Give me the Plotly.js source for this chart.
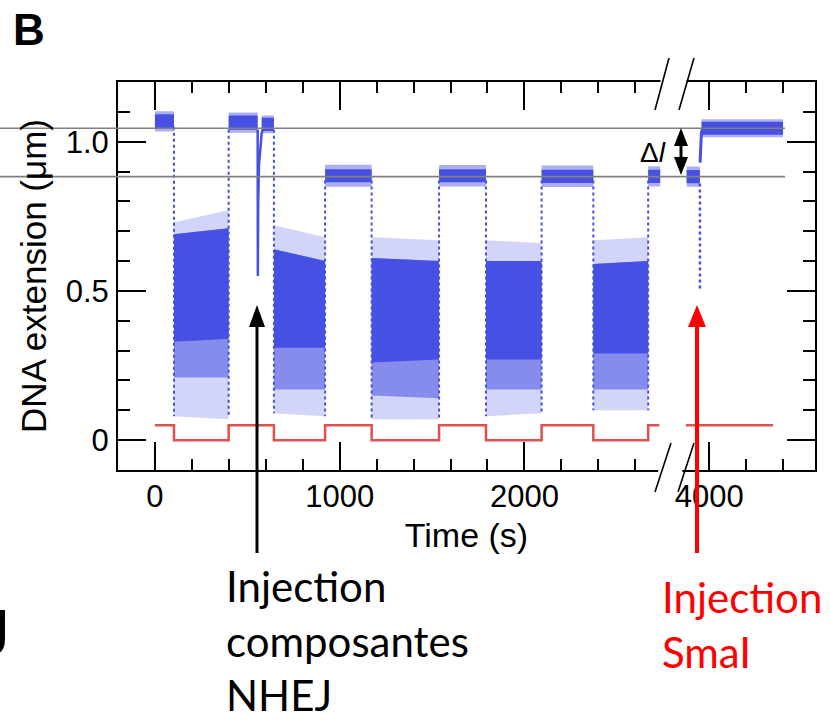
<!DOCTYPE html>
<html><head><meta charset="utf-8">
<script src="https://cdn.plot.ly/plotly-3.0.1.min.js"></script>
<style>html,body{margin:0;padding:0;background:#fff}#chart{width:830px;height:721px}</style>
</head><body><div id="chart"></div>
<script>
// ================= DATA =================
// Time axis is broken: times after the break are drawn shifted left by BREAK_CUT
const BREAK_AT = 3000;          // s, any time above this lies after the break
const BREAK_CUT = 1000;         // s removed by the break

const xTickTimes  = [0, 1000, 2000, 4000];
const xTickText   = ['0', '1000', '2000', '4000'];
const xMinorTimes = [200, 400, 600, 800, 1200, 1400, 1600, 1800, 2200, 2400, 2600, 4200, 4400];
const yTickVals   = [0, 0.5, 1.0];
const yTickText   = ['0', '0.5', '1.0'];
const yMinorVals  = [0.1, 0.2, 0.3, 0.4, 0.6, 0.7, 0.8, 0.9, 1.1];

// Fluctuating (low force) phases: start / end time (s) and envelope levels (µm) at [start, end]
const cloudStart    = [103, 644, 1173, 1792, 2373];
const cloudEnd      = [399, 921, 1538, 2093, 2670];
const cloudOuterTop = [[0.73, 0.77], [0.72, 0.68], [0.68, 0.67], [0.67, 0.66], [0.67, 0.68]];
const cloudCoreTop  = [[0.69, 0.71], [0.64, 0.60], [0.61, 0.60], [0.60, 0.60], [0.59, 0.60]];
const cloudCoreBot  = [[0.33, 0.34], [0.31, 0.31], [0.26, 0.27], [0.27, 0.27], [0.29, 0.29]];
const cloudSpeckBot = [[0.21, 0.21], [0.17, 0.17], [0.15, 0.14], [0.17, 0.17], [0.17, 0.17]];
const cloudOuterBot = [[0.08, 0.07], [0.09, 0.08], [0.07, 0.07], [0.08, 0.09], [0.10, 0.10]];

// Plateaus (high force): start / end time (s), mean extension and noise half-widths (µm)
const platStart = [0, 399, 578, 921, 1538, 2093, 2670, 3878, 3959];
const platEnd   = [103, 556, 644, 1173, 1792, 2373, 2735, 3950, 4400];
const platLevel = [1.068, 1.064, 1.058, 0.886, 0.886, 0.884, 0.884, 0.883, 1.045];
const platCore  = [0.024, 0.024, 0.022, 0.022, 0.022, 0.022, 0.022, 0.022, 0.022];
const platOuter = [0.034, 0.034, 0.030, 0.037, 0.036, 0.036, 0.034, 0.034, 0.030];

// Transitions between phases (dotted vertical traces)
const transTime = [103, 399, 644, 921, 1173, 1538, 1792, 2093, 2373, 2670];
const transHigh = [1.05, 1.04, 1.04, 0.87, 0.87, 0.87, 0.87, 0.87, 0.87, 0.87];
const transLow  = [0.08, 0.08, 0.09, 0.08, 0.07, 0.07, 0.08, 0.09, 0.10, 0.10];

// Excursion after injection of the NHEJ components
const dipTime = [556, 557, 559, 563, 569, 578, 590];
const dipExt  = [1.04, 0.55, 0.80, 0.92, 0.98, 1.03, 1.05];

// Cut by SmaI: drop then rise to the new plateau
const smaDropTime = [3950, 3950];
const smaDropExt  = [0.86, 0.50];
const smaRiseTime = [3951, 3953, 3955, 3958, 3965];
const smaRiseExt  = [0.93, 0.98, 1.00, 1.03, 1.045];

// Force signal (red square wave)
const redTime  = [0, 103, 399, 644, 921, 1173, 1538, 1792, 2093, 2373, 2670, 2730, null, 3874, 4346];
const redLevel = [0.05, 0, 0.05, 0, 0.05, 0, 0.05, 0, 0.05, 0, 0.05, 0.05, null, 0.05, 0.05];

// Reference extension levels (grey lines)
const refLevels = [1.045, 0.883];

// ================= DRAWING =================
const xm = t => (t === null ? null : (t > BREAK_AT ? t - BREAK_CUT : t));
const BLUE = 'rgb(70,80,226)';
const blueA = a => 'rgba(70,80,226,' + a + ')';

function bandPolys(starts, ends, tops, bots) {
  const x = [], y = [];
  for (let i = 0; i < starts.length; i++) {
    const t0 = xm(starts[i]), t1 = xm(ends[i]);
    x.push(t0, t1, t1, t0, t0, null);
    y.push(tops[i][0], tops[i][1], bots[i][1], bots[i][0], tops[i][0], null);
  }
  return {x, y};
}
const pair = v => [v, v];

const cloudFringe = bandPolys(cloudStart, cloudEnd, cloudOuterTop, cloudOuterBot);
const cloudSpeck  = bandPolys(cloudStart, cloudEnd, cloudCoreTop, cloudSpeckBot);
const cloudCore   = bandPolys(cloudStart, cloudEnd, cloudCoreTop, cloudCoreBot);
const platFringe  = bandPolys(platStart, platEnd,
  platLevel.map((v, i) => pair(v + platOuter[i])), platLevel.map((v, i) => pair(v - platOuter[i])));
const platCoreP   = bandPolys(platStart, platEnd,
  platLevel.map((v, i) => pair(v + platCore[i])), platLevel.map((v, i) => pair(v - platCore[i])));

const tx = [], ty = [];
transTime.forEach((t, i) => { tx.push(xm(t), xm(t), null); ty.push(transHigh[i], transLow[i], null); });

const traces = [
  {x: tx, y: ty, type: 'scatter', mode: 'lines', line: {color: BLUE, width: 2, dash: 'dot'}},
  {x: cloudFringe.x, y: cloudFringe.y, type: 'scatter', mode: 'none', fill: 'toself', fillcolor: blueA(0.24)},
  {x: cloudSpeck.x, y: cloudSpeck.y, type: 'scatter', mode: 'none', fill: 'toself', fillcolor: blueA(0.55)},
  {x: cloudCore.x, y: cloudCore.y, type: 'scatter', mode: 'none', fill: 'toself', fillcolor: BLUE},
  {x: platFringe.x, y: platFringe.y, type: 'scatter', mode: 'none', fill: 'toself', fillcolor: blueA(0.45)},
  {x: platCoreP.x, y: platCoreP.y, type: 'scatter', mode: 'none', fill: 'toself', fillcolor: BLUE},
  {x: dipTime.map(xm), y: dipExt, type: 'scatter', mode: 'lines', line: {color: BLUE, width: 2.5}},
  {x: smaDropTime.map(xm), y: smaDropExt, type: 'scatter', mode: 'lines', line: {color: BLUE, width: 2.5, dash: 'dot'}},
  {x: smaRiseTime.map(xm), y: smaRiseExt, type: 'scatter', mode: 'lines', line: {color: BLUE, width: 3}},
  {x: redTime.map(xm), y: redLevel, type: 'scatter', mode: 'lines', line: {color: '#e05050', width: 2.5, shape: 'hv'}}
];

// ----- layout geometry -----
const W = 830, H = 721, ML = 118, MR = 15, MT = 82, MB = 251;
const xRange = [-200, 3573];
const yRange = [-0.1, 1.2];
const PW = W - ML - MR, PH = H - MT - MB;
const px2x = px => (px - ML) / PW;             // page pixel -> paper x
const py2y = py => (H - MB - py) / PH;          // page pixel -> paper y
const v2y  = v => (v - yRange[0]) / (yRange[1] - yRange[0]);

const shapes = [];
const pline = (x0, y0, x1, y1, color, width) => shapes.push({type: 'line', xref: 'paper', yref: 'paper',
  x0: px2x(x0), y0: py2y(y0), x1: px2x(x1), y1: py2y(y1), line: {color, width}, layer: 'above'});
const ppoly = (pts, color) => shapes.push({type: 'path', xref: 'paper', yref: 'paper', layer: 'above',
  path: 'M' + pts.map(p => px2x(p[0]).toFixed(5) + ',' + py2y(p[1]).toFixed(5)).join('L') + 'Z',
  fillcolor: color, line: {width: 0}});

// grey reference lines
refLevels.forEach(v => shapes.push({type: 'line', xref: 'paper', yref: 'paper', layer: 'above',
  x0: px2x(0), x1: px2x(785), y0: v2y(v), y1: v2y(v), line: {color: '#808080', width: 1.6}}));

// axis break marks (white gap + two slashes, top and bottom)
ppoly([[662, 74], [688, 74], [684, 92], [658, 92]], '#ffffff');
ppoly([[660, 462], [684, 462], [681, 478], [657, 478]], '#ffffff');
pline(655, 110, 669, 58, '#000', 1.6);
pline(679, 110, 694, 58, '#000', 1.6);
pline(655, 492, 671, 443, '#000', 1.6);
pline(678, 492, 694, 443, '#000', 1.6);

// injection arrows
pline(257, 553, 257, 322, '#000', 3);
ppoly([[249, 327], [265, 327], [257, 305]], '#000');
pline(697, 553, 697, 322, '#ff0000', 4);
ppoly([[688, 327], [706, 327], [697, 305]], '#ff0000');
// Δl double arrow
pline(681, 142, 681, 161, '#000', 3);
ppoly([[674, 146], [688, 146], [681, 128]], '#000');
ppoly([[674, 157], [688, 157], [681, 175]], '#000');

const annotations = [
  {text: '<b>B</b>', xref: 'paper', yref: 'paper', x: px2x(11), y: py2y(3), xanchor: 'left', yanchor: 'top',
   showarrow: false, font: {family: 'Liberation Sans, Arial, sans-serif', size: 44, color: '#000'}},
  {text: 'Δ<i>l</i>', xref: 'paper', yref: 'paper', x: px2x(653), y: py2y(152), xanchor: 'center', yanchor: 'middle',
   showarrow: false, font: {family: 'Liberation Sans, Arial, sans-serif', size: 28, color: '#000'}},
  {text: 'Injection<br>composantes<br>NHEJ', xref: 'paper', yref: 'paper', x: px2x(224), y: py2y(559),
   xanchor: 'left', yanchor: 'top', align: 'left', showarrow: false,
   font: {family: 'Lato, Carlito, sans-serif', size: 42, color: '#000'}},
  {text: 'Injection<br>SmaI', xref: 'paper', yref: 'paper', x: px2x(660), y: py2y(570),
   xanchor: 'left', yanchor: 'top', align: 'left', showarrow: false,
   font: {family: 'Lato, Carlito, sans-serif', size: 42, color: '#ff0000'}},
  {text: 'J', xref: 'paper', yref: 'paper', x: px2x(12), y: py2y(592), xanchor: 'right', yanchor: 'top',
   showarrow: false, font: {family: 'Lato, Carlito, sans-serif', size: 62, color: '#000'}}
];

const axisFont = {family: 'Liberation Sans, Arial, sans-serif', size: 31, color: '#000'};
const layout = {
  width: W, height: H, margin: {l: ML, r: MR, t: MT, b: MB},
  paper_bgcolor: '#fff', plot_bgcolor: '#fff', showlegend: false,
  xaxis: {
    range: xRange, tickmode: 'array', tickvals: xTickTimes.map(xm), ticktext: xTickText,
    ticks: 'inside', ticklen: 28, tickwidth: 2, tickcolor: '#000',
    minor: {tickmode: 'array', tickvals: xMinorTimes.map(xm), ticks: 'inside', ticklen: 11, tickwidth: 2, tickcolor: '#000', showgrid: false},
    showline: true, linewidth: 2, linecolor: '#000', mirror: 'ticks',
    showgrid: false, zeroline: false, tickfont: axisFont, ticklabelstandoff: -2,
    title: {text: 'Time (s)', font: {family: 'Liberation Sans, Arial, sans-serif', size: 34, color: '#000'}, standoff: 10}
  },
  yaxis: {
    range: yRange, tickmode: 'array', tickvals: yTickVals, ticktext: yTickText,
    ticks: 'inside', ticklen: 28, tickwidth: 2, tickcolor: '#000',
    minor: {tickmode: 'array', tickvals: yMinorVals, ticks: 'inside', ticklen: 12, tickwidth: 2, tickcolor: '#000', showgrid: false},
    showline: true, linewidth: 2, linecolor: '#000', mirror: 'ticks',
    showgrid: false, zeroline: false, tickfont: axisFont, ticklabelstandoff: 1,
    title: {text: 'DNA extension (μm)', font: {family: 'Liberation Sans, Arial, sans-serif', size: 35, color: '#000'}, standoff: 8}
  },
  shapes, annotations
};

Plotly.newPlot('chart', traces, layout, {displayModeBar: false, staticPlot: true});
</script>
</body></html>
